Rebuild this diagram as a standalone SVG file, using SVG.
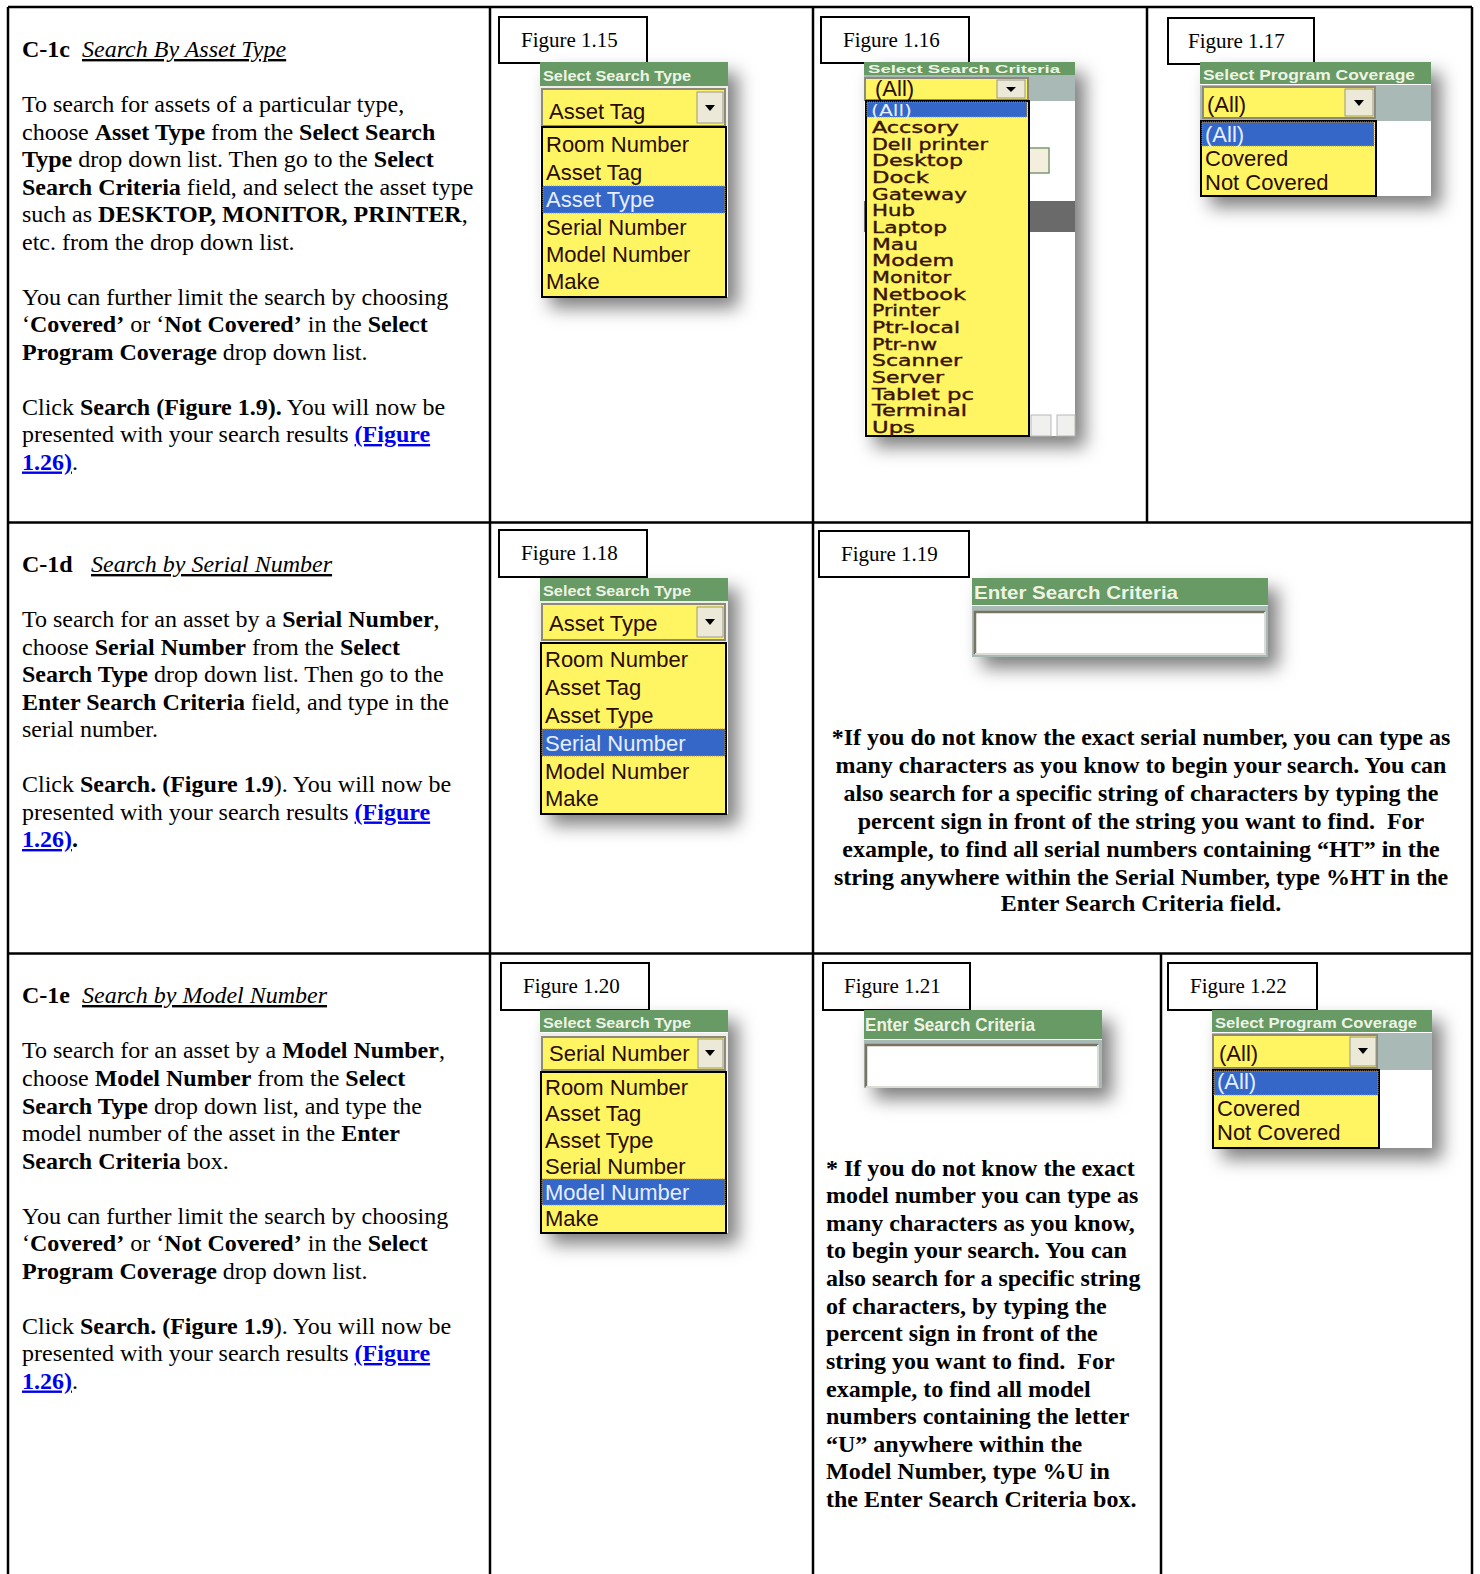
<svg xmlns="http://www.w3.org/2000/svg" width="1480" height="1574" viewBox="0 0 1480 1574">
<defs>
<filter id="sh" x="-25%" y="-25%" width="170%" height="170%">
<feDropShadow dx="10" dy="11" stdDeviation="9" flood-color="#000" flood-opacity="0.5"/>
</filter>
<style>
.t{font-family:"Liberation Serif","Times New Roman",serif;font-size:24px;fill:#000}
.b{font-weight:bold}
.i{font-style:italic;text-decoration:underline}
.lnk{fill:#0000ee;font-weight:bold;text-decoration:underline}
.fig{font-family:"Liberation Serif","Times New Roman",serif;font-size:21px;fill:#000}
.figbox{fill:#fff;stroke:#000;stroke-width:2}
.grid{stroke:#000;stroke-width:2.5;fill:none}
.hdr{fill:#689a65}
.ht{font-family:"Liberation Sans",Arial,sans-serif;font-weight:bold;fill:#eef4e4}
.row{fill:#a9b9b6}
.sel{fill:#fff562;stroke:#8d8a7a;stroke-width:2}
.btn{fill:#ece9d8;stroke:#9a9888;stroke-width:1}
.lst{fill:#fff562;stroke:#000;stroke-width:2}
.it{font-family:"Liberation Sans",Arial,sans-serif;font-size:22px;fill:#2a0c00}
.it2{font-family:"DejaVu Sans",sans-serif;font-size:15px;fill:#3a1200;stroke:#3a1200;stroke-width:0.35}
.hl{fill:#3467c8;stroke:#c89030;stroke-width:1;stroke-dasharray:1 1}
.hlt{fill:#e6eeff;stroke:none}
.sbase{fill:#fff}
</style>
</defs>
<rect width="1480" height="1574" fill="#fff"/>

<g id="grid">
<line class="grid" x1="8" y1="7" x2="1472" y2="7"/>
<line class="grid" x1="8" y1="7" x2="8" y2="1574"/>
<line class="grid" x1="1472" y1="7" x2="1472" y2="1574"/>
<line class="grid" x1="8" y1="522.5" x2="1472" y2="522.5"/>
<line class="grid" x1="8" y1="953.5" x2="1472" y2="953.5"/>
<line class="grid" x1="490" y1="7" x2="490" y2="1574"/>
<line class="grid" x1="813" y1="7" x2="813" y2="1574"/>
<line class="grid" x1="1147" y1="7" x2="1147" y2="522.5"/>
<line class="grid" x1="1161" y1="953.5" x2="1161" y2="1574"/>
</g>

<g id="c1c">
<text class="t" y="57"><tspan x="22" class="b">C-1c</tspan><tspan x="82" class="i">Search By Asset Type</tspan></text>
<text class="t" x="22" y="112">To search for assets of a particular type,</text>
<text class="t" x="22" y="139.5">choose <tspan class="b">Asset Type</tspan> from the <tspan class="b">Select Search</tspan></text>
<text class="t" x="22" y="167"><tspan class="b">Type</tspan> drop down list. Then go to the <tspan class="b">Select</tspan></text>
<text class="t" x="22" y="194.5"><tspan class="b">Search Criteria</tspan> field, and select the asset type</text>
<text class="t" x="22" y="222">such as <tspan class="b">DESKTOP, MONITOR, PRINTER</tspan>,</text>
<text class="t" x="22" y="249.5">etc. from the drop down list.</text>
<text class="t" x="22" y="304.5">You can further limit the search by choosing</text>
<text class="t" x="22" y="332">‘<tspan class="b">Covered’</tspan> or ‘<tspan class="b">Not Covered’</tspan> in the <tspan class="b">Select</tspan></text>
<text class="t" x="22" y="359.5"><tspan class="b">Program Coverage</tspan> drop down list.</text>
<text class="t" x="22" y="414.5">Click <tspan class="b">Search (Figure 1.9).</tspan> You will now be</text>
<text class="t" x="22" y="442">presented with your search results <tspan class="lnk">(Figure</tspan></text>
<text class="t" x="22" y="469.5"><tspan class="lnk">1.26)</tspan>.</text>
</g>

<g id="fig115">
<rect class="figbox" x="499" y="17" width="148" height="46"/>
<text class="fig" x="521" y="47">Figure 1.15</text>
<rect class="sbase" x="540" y="62" width="188" height="235" filter="url(#sh)"/>
<rect class="hdr" x="540" y="62" width="188" height="24"/>
<text class="ht" x="543" y="81" font-size="15" textLength="148" lengthAdjust="spacingAndGlyphs">Select Search Type</text>
<rect fill="#eeeee6" x="540" y="86" width="188" height="41"/>
<rect class="sel" x="542" y="89" width="183" height="37"/>
<rect class="btn" x="697" y="92" width="26" height="31"/>
<polygon points="705,105 715,105 710,111" fill="#000"/>
<text class="it" x="549" y="119">Asset Tag</text>
<rect class="lst" x="542" y="127" width="184" height="170"/>
<rect class="hl" x="543" y="186" width="182" height="27"/>
<text class="it" x="546" y="152">Room Number</text>
<text class="it" x="546" y="180">Asset Tag</text>
<text class="it hlt" x="546" y="207">Asset Type</text>
<text class="it" x="546" y="235">Serial Number</text>
<text class="it" x="546" y="262">Model Number</text>
<text class="it" x="546" y="289">Make</text>
</g>

<g id="fig116">
<rect class="figbox" x="821" y="17" width="148" height="46"/>
<text class="fig" x="843" y="47">Figure 1.16</text>
<rect class="sbase" x="864" y="62" width="211" height="374" filter="url(#sh)"/>
<rect class="hdr" x="864" y="62" width="211" height="13"/>
<text class="ht" x="868" y="73" font-size="11" textLength="192" lengthAdjust="spacingAndGlyphs">Select Search Criteria</text>
<rect class="row" x="864" y="75" width="211" height="26"/>
<rect class="sel" x="865" y="78" width="163" height="22"/>
<rect class="btn" x="997" y="80" width="28" height="18"/>
<polygon points="1006,87 1016,87 1011,92" fill="#000"/>
<text class="it" x="875" y="96" font-size="18">(All)</text>
<rect fill="#f4eedc" stroke="#7c9a70" stroke-width="1.5" x="1020" y="148" width="29" height="25"/>
<rect fill="#6a6a6a" x="864" y="201" width="211" height="31"/>
<rect fill="#f0f0ee" stroke="#b8b8b8" stroke-width="1" x="1031" y="415" width="20" height="21"/>
<rect fill="#f0f0ee" stroke="#b8b8b8" stroke-width="1" x="1057" y="415" width="18" height="21"/>
<rect class="lst" x="866" y="101" width="163" height="335"/>
<rect class="hl" x="867" y="102" width="160" height="15"/>
<text class="it2 hlt" x="871" y="116" textLength="41" lengthAdjust="spacingAndGlyphs">(All)</text>
<text class="it2" x="872" y="133" textLength="87" lengthAdjust="spacingAndGlyphs">Accsory</text>
<text class="it2" x="872" y="149.5" textLength="116" lengthAdjust="spacingAndGlyphs">Dell printer</text>
<text class="it2" x="872" y="166" textLength="91" lengthAdjust="spacingAndGlyphs">Desktop</text>
<text class="it2" x="872" y="183" textLength="57" lengthAdjust="spacingAndGlyphs">Dock</text>
<text class="it2" x="872" y="199.5" textLength="95" lengthAdjust="spacingAndGlyphs">Gateway</text>
<text class="it2" x="872" y="216" textLength="43" lengthAdjust="spacingAndGlyphs">Hub</text>
<text class="it2" x="872" y="233" textLength="75" lengthAdjust="spacingAndGlyphs">Laptop</text>
<text class="it2" x="872" y="249.5" textLength="46" lengthAdjust="spacingAndGlyphs">Mau</text>
<text class="it2" x="872" y="266" textLength="82" lengthAdjust="spacingAndGlyphs">Modem</text>
<text class="it2" x="872" y="283" textLength="79" lengthAdjust="spacingAndGlyphs">Monitor</text>
<text class="it2" x="872" y="299.5" textLength="94" lengthAdjust="spacingAndGlyphs">Netbook</text>
<text class="it2" x="872" y="316" textLength="68" lengthAdjust="spacingAndGlyphs">Printer</text>
<text class="it2" x="872" y="333" textLength="88" lengthAdjust="spacingAndGlyphs">Ptr-local</text>
<text class="it2" x="872" y="349.5" textLength="65" lengthAdjust="spacingAndGlyphs">Ptr-nw</text>
<text class="it2" x="872" y="366" textLength="90" lengthAdjust="spacingAndGlyphs">Scanner</text>
<text class="it2" x="872" y="383" textLength="72" lengthAdjust="spacingAndGlyphs">Server</text>
<text class="it2" x="872" y="399.5" textLength="102" lengthAdjust="spacingAndGlyphs">Tablet pc</text>
<text class="it2" x="872" y="416" textLength="95" lengthAdjust="spacingAndGlyphs">Terminal</text>
<text class="it2" x="872" y="433" textLength="43" lengthAdjust="spacingAndGlyphs">Ups</text>
</g>

<g id="fig117">
<rect class="figbox" x="1168" y="18" width="146" height="46"/>
<text class="fig" x="1188" y="48">Figure 1.17</text>
<rect class="sbase" x="1200" y="62" width="231" height="134" filter="url(#sh)"/>
<rect class="hdr" x="1200" y="62" width="231" height="22"/>
<text class="ht" x="1203" y="80" font-size="15" textLength="212" lengthAdjust="spacingAndGlyphs">Select Program Coverage</text>
<rect class="row" x="1200" y="85" width="231" height="36"/>
<rect class="sel" x="1203" y="87" width="172" height="31"/>
<rect class="btn" x="1345" y="89" width="28" height="27"/>
<polygon points="1354,100 1364,100 1359,106" fill="#000"/>
<text class="it" x="1207" y="112">(All)</text>
<rect class="lst" x="1201" y="121" width="175" height="75"/>
<rect class="hl" x="1202" y="122" width="172" height="24"/>
<text class="it hlt" x="1205" y="142">(All)</text>
<text class="it" x="1205" y="166">Covered</text>
<text class="it" x="1205" y="190">Not Covered</text>
</g>

<g id="c1d">
<text class="t" y="572"><tspan x="22" class="b">C-1d</tspan><tspan x="91" class="i">Search by Serial Number</tspan></text>
<text class="t" x="22" y="627">To search for an asset by a <tspan class="b">Serial Number</tspan>,</text>
<text class="t" x="22" y="654.5">choose <tspan class="b">Serial Number</tspan> from the <tspan class="b">Select</tspan></text>
<text class="t" x="22" y="682"><tspan class="b">Search Type</tspan> drop down list. Then go to the</text>
<text class="t" x="22" y="709.5"><tspan class="b">Enter Search Criteria</tspan> field, and type in the</text>
<text class="t" x="22" y="737">serial number.</text>
<text class="t" x="22" y="792">Click <tspan class="b">Search. (Figure 1.9</tspan>). You will now be</text>
<text class="t" x="22" y="819.5">presented with your search results <tspan class="lnk">(Figure</tspan></text>
<text class="t" x="22" y="847"><tspan class="lnk">1.26)</tspan><tspan class="b">.</tspan></text>
</g>

<g id="fig118">
<rect class="figbox" x="499" y="530" width="148" height="47"/>
<text class="fig" x="521" y="560">Figure 1.18</text>
<rect class="sbase" x="540" y="578" width="188" height="236" filter="url(#sh)"/>
<rect class="hdr" x="540" y="578" width="188" height="23"/>
<text class="ht" x="543" y="596" font-size="15" textLength="148" lengthAdjust="spacingAndGlyphs">Select Search Type</text>
<rect fill="#eeeee6" x="540" y="601" width="188" height="42"/>
<rect class="sel" x="542" y="604" width="183" height="36"/>
<rect class="btn" x="697" y="607" width="26" height="30"/>
<polygon points="705,619 715,619 710,625" fill="#000"/>
<text class="it" x="549" y="631">Asset Type</text>
<rect class="lst" x="541" y="643" width="185" height="171"/>
<rect class="hl" x="542" y="729" width="183" height="27"/>
<text class="it" x="545" y="667">Room Number</text>
<text class="it" x="545" y="695">Asset Tag</text>
<text class="it" x="545" y="723">Asset Type</text>
<text class="it hlt" x="545" y="751">Serial Number</text>
<text class="it" x="545" y="779">Model Number</text>
<text class="it" x="545" y="806">Make</text>
</g>

<g id="fig119">
<rect class="figbox" x="819" y="531" width="150" height="46"/>
<text class="fig" x="841" y="561">Figure 1.19</text>
<rect class="sbase" x="972" y="578" width="296" height="79" filter="url(#sh)"/>
<rect class="hdr" x="972" y="578" width="296" height="27"/>
<text class="ht" x="974" y="599" font-size="19" textLength="204" lengthAdjust="spacingAndGlyphs">Enter Search Criteria</text>
<rect class="row" x="972" y="606" width="296" height="51"/>
<rect fill="#fff" x="975" y="612" width="290" height="42"/>
<path d="M975,654 V612 H1265" fill="none" stroke="#7a7360" stroke-width="2.5"/>
<path d="M975,654 H1265 V612" fill="none" stroke="#dcdcd4" stroke-width="2"/>
<text class="t b" text-anchor="middle" x="1141" y="745">*If you do not know the exact serial number, you can type as</text>
<text class="t b" text-anchor="middle" x="1141" y="773">many characters as you know to begin your search. You can</text>
<text class="t b" text-anchor="middle" x="1141" y="801">also search for a specific string of characters by typing the</text>
<text class="t b" text-anchor="middle" x="1141" y="828.5" xml:space="preserve">percent sign in front of the string you want to find.  For</text>
<text class="t b" text-anchor="middle" x="1141" y="856.5">example, to find all serial numbers containing “HT” in the</text>
<text class="t b" text-anchor="middle" x="1141" y="884.5">string anywhere within the Serial Number, type %HT in the</text>
<text class="t b" text-anchor="middle" x="1141" y="911">Enter Search Criteria field.</text>
</g>

<g id="c1e">
<text class="t" y="1003"><tspan x="22" class="b">C-1e</tspan><tspan x="82" class="i">Search by Model Number</tspan></text>
<text class="t" x="22" y="1058">To search for an asset by a <tspan class="b">Model Number</tspan>,</text>
<text class="t" x="22" y="1086">choose <tspan class="b">Model Number</tspan> from the <tspan class="b">Select</tspan></text>
<text class="t" x="22" y="1113.5"><tspan class="b">Search Type</tspan> drop down list, and type the</text>
<text class="t" x="22" y="1141">model number of the asset in the <tspan class="b">Enter</tspan></text>
<text class="t" x="22" y="1168.5"><tspan class="b">Search Criteria</tspan> box.</text>
<text class="t" x="22" y="1223.5">You can further limit the search by choosing</text>
<text class="t" x="22" y="1251">‘<tspan class="b">Covered’</tspan> or ‘<tspan class="b">Not Covered’</tspan> in the <tspan class="b">Select</tspan></text>
<text class="t" x="22" y="1278.5"><tspan class="b">Program Coverage</tspan> drop down list.</text>
<text class="t" x="22" y="1333.5">Click <tspan class="b">Search. (Figure 1.9</tspan>). You will now be</text>
<text class="t" x="22" y="1361">presented with your search results <tspan class="lnk">(Figure</tspan></text>
<text class="t" x="22" y="1388.5"><tspan class="lnk">1.26)</tspan>.</text>
</g>

<g id="fig120">
<rect class="figbox" x="501" y="963" width="148" height="47"/>
<text class="fig" x="523" y="993">Figure 1.20</text>
<rect class="sbase" x="540" y="1010" width="188" height="223" filter="url(#sh)"/>
<rect class="hdr" x="540" y="1010" width="188" height="22"/>
<text class="ht" x="543" y="1028" font-size="15" textLength="148" lengthAdjust="spacingAndGlyphs">Select Search Type</text>
<rect fill="#eeeee6" x="540" y="1033" width="188" height="39"/>
<rect class="sel" x="542" y="1037" width="183" height="33"/>
<rect class="btn" x="698" y="1039" width="25" height="29"/>
<polygon points="705,1050 715,1050 710,1056" fill="#000"/>
<text class="it" x="549" y="1061">Serial Number</text>
<rect class="lst" x="541" y="1072" width="185" height="161"/>
<rect class="hl" x="542" y="1179" width="183" height="26"/>
<text class="it" x="545" y="1095">Room Number</text>
<text class="it" x="545" y="1121">Asset Tag</text>
<text class="it" x="545" y="1148">Asset Type</text>
<text class="it" x="545" y="1174">Serial Number</text>
<text class="it hlt" x="545" y="1200">Model Number</text>
<text class="it" x="545" y="1226">Make</text>
</g>

<g id="fig121">
<rect class="figbox" x="823" y="963" width="147" height="47"/>
<text class="fig" x="844" y="993">Figure 1.21</text>
<rect class="sbase" x="864" y="1010" width="238" height="78" filter="url(#sh)"/>
<rect class="hdr" x="864" y="1010" width="238" height="29"/>
<text class="ht" x="865" y="1031" font-size="19" textLength="170" lengthAdjust="spacingAndGlyphs">Enter Search Criteria</text>
<rect class="row" x="864" y="1040" width="238" height="48"/>
<rect fill="#fff" x="866" y="1045" width="232" height="42"/>
<path d="M866,1087 V1045 H1098" fill="none" stroke="#7a7360" stroke-width="2.5"/>
<path d="M866,1087 H1098 V1045" fill="none" stroke="#dcdcd4" stroke-width="2"/>
<text class="t b" x="826" y="1175.5">* If you do not know the exact</text>
<text class="t b" x="826" y="1203">model number you can type as</text>
<text class="t b" x="826" y="1230.5">many characters as you know,</text>
<text class="t b" x="826" y="1258">to begin your search. You can</text>
<text class="t b" x="826" y="1286">also search for a specific string</text>
<text class="t b" x="826" y="1313.5">of characters, by typing the</text>
<text class="t b" x="826" y="1341">percent sign in front of the</text>
<text class="t b" x="826" y="1368.5" xml:space="preserve">string you want to find.  For</text>
<text class="t b" x="826" y="1396.5">example, to find all model</text>
<text class="t b" x="826" y="1424">numbers containing the letter</text>
<text class="t b" x="826" y="1451.5">“U” anywhere within the</text>
<text class="t b" x="826" y="1479">Model Number, type %U in</text>
<text class="t b" x="826" y="1506.5">the Enter Search Criteria box.</text>
</g>

<g id="fig122">
<rect class="figbox" x="1168" y="963" width="149" height="47"/>
<text class="fig" x="1190" y="993">Figure 1.22</text>
<rect class="sbase" x="1212" y="1010" width="220" height="138" filter="url(#sh)"/>
<rect class="hdr" x="1212" y="1010" width="220" height="22"/>
<text class="ht" x="1215" y="1028" font-size="15" textLength="202" lengthAdjust="spacingAndGlyphs">Select Program Coverage</text>
<rect class="row" x="1212" y="1033" width="220" height="37"/>
<rect class="sel" x="1213" y="1035" width="164" height="33"/>
<rect class="btn" x="1350" y="1037" width="26" height="29"/>
<polygon points="1358,1048 1368,1048 1363,1054" fill="#000"/>
<text class="it" x="1219" y="1061">(All)</text>
<rect class="lst" x="1213" y="1070" width="166" height="78"/>
<rect class="hl" x="1214" y="1071" width="164" height="24"/>
<text class="it hlt" x="1217" y="1089">(All)</text>
<text class="it" x="1217" y="1116">Covered</text>
<text class="it" x="1217" y="1140">Not Covered</text>
</g>
</svg>
